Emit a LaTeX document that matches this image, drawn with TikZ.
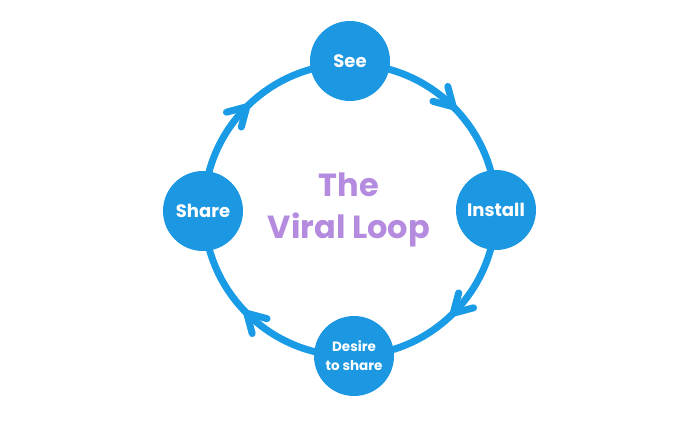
\documentclass[tikz,border=0pt]{standalone}
\usepackage{fontspec}
\setmainfont{Poppins}
\usetikzlibrary{calc}
\definecolor{ringblue}{HTML}{1A9BE6}
\definecolor{nodeblue}{HTML}{1C97E2}
\definecolor{titlepurple}{HTML}{B58BDF}
\tikzset{
  ring/.style={draw=ringblue, line width=7pt},
  stage/.style={circle, fill=nodeblue, minimum size=80pt, inner sep=0pt, text=white, font=\fontsize{18pt}{20pt}\selectfont\bfseries, align=center},
  chev/.style={draw=ringblue, line width=7pt, line cap=round, line join=round},
}
\begin{document}
\begin{tikzpicture}[x=1pt,y=-1pt]
\useasboundingbox (0,0) rectangle (698,420);
\coordinate (c) at (350,210);
\draw[ring] (c) circle (146);
\node[stage] (see) at (350,61) {See};
\node[stage] (install) at (496,210) {Install};
\node[stage] (desire) at (354,356) {\fontsize{13.5pt}{15pt}\selectfont Desire\\[-1pt]\fontsize{13.5pt}{15pt}\selectfont to share};
\node[stage] (share) at (203,211) {Share};
\node[text=titlepurple, font=\fontsize{32pt}{42pt}\selectfont\bfseries, align=center] (title) at (349,210) {The\\Viral Loop};
\foreach \a/\n in {45/ne,-45/se,-135/sw,135/nw}{
  \coordinate (\n) at ($(c)+(\a:146)$);
}
\foreach \n/\d in {ne/135,se/45,sw/-45,nw/-135}{
  \draw[chev] ($(\n)+(\d+150:21)$) -- (\n) -- ($(\n)+(\d-150:21)$);
}
\end{tikzpicture}
\end{document}
